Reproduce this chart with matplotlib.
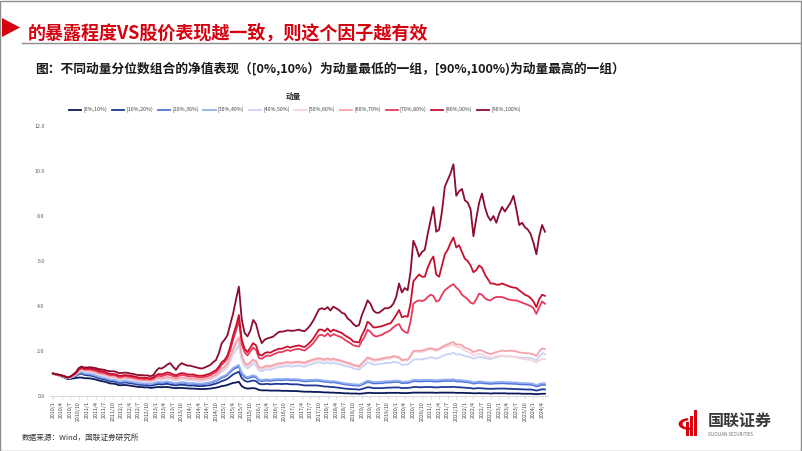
import matplotlib
matplotlib.use("Agg")
import matplotlib.pyplot as plt
from matplotlib.patches import Polygon, Wedge, Rectangle
from matplotlib.lines import Line2D

plt.rcParams['font.family'] = ['Noto Sans CJK SC', 'DejaVu Sans']

# ---------------- data (monthly, 2010/1 .. 2024/5) ----------------
start_year = 2010
n_months = 173

labels = ["[0%,10%)", "[10%,20%)", "[20%,30%)", "[30%,40%)", "[40%,50%)",
          "[50%,60%)", "[60%,70%)", "[70%,80%)", "[80%,90%)", "[90%,100%)"]

s_0_10 = [
    1.00, 0.95, 0.92, 0.87, 0.82, 0.76, 0.76, 0.78, 0.80, 0.82, 0.82, 0.79,
    0.79, 0.78, 0.76, 0.73, 0.69, 0.66, 0.64, 0.60, 0.56, 0.55, 0.53, 0.48,
    0.48, 0.49, 0.48, 0.46, 0.44, 0.42, 0.40, 0.40, 0.38, 0.39, 0.36, 0.37,
    0.39, 0.40, 0.39, 0.40, 0.40, 0.38, 0.36, 0.35, 0.36, 0.36, 0.35, 0.34,
    0.33, 0.33, 0.32, 0.31, 0.31, 0.31, 0.32, 0.33, 0.35, 0.37, 0.40, 0.44,
    0.46, 0.49, 0.54, 0.58, 0.60, 0.63, 0.44, 0.36, 0.33, 0.34, 0.35, 0.33,
    0.27, 0.25, 0.25, 0.25, 0.24, 0.24, 0.24, 0.24, 0.23, 0.23, 0.23, 0.22,
    0.22, 0.22, 0.21, 0.20, 0.19, 0.19, 0.19, 0.18, 0.18, 0.18, 0.17, 0.16,
    0.16, 0.15, 0.15, 0.14, 0.14, 0.13, 0.12, 0.12, 0.11, 0.11, 0.11, 0.10,
    0.11, 0.12, 0.14, 0.14, 0.13, 0.13, 0.13, 0.13, 0.13, 0.14, 0.14, 0.14,
    0.14, 0.14, 0.13, 0.13, 0.13, 0.14, 0.15, 0.15, 0.15, 0.15, 0.15, 0.15,
    0.15, 0.15, 0.14, 0.15, 0.15, 0.15, 0.15, 0.15, 0.15, 0.14, 0.14, 0.14,
    0.14, 0.13, 0.13, 0.12, 0.12, 0.13, 0.12, 0.12, 0.12, 0.11, 0.12, 0.12,
    0.12, 0.12, 0.12, 0.11, 0.11, 0.11, 0.11, 0.11, 0.10, 0.10, 0.10, 0.10,
    0.09, 0.08, 0.09, 0.10, 0.10]

s_10_20 = [
    1.00, 0.96, 0.92, 0.88, 0.84, 0.78, 0.80, 0.84, 0.89, 0.96, 1.00, 0.94,
    0.92, 0.91, 0.88, 0.84, 0.79, 0.76, 0.74, 0.70, 0.66, 0.65, 0.63, 0.58,
    0.58, 0.60, 0.59, 0.57, 0.55, 0.53, 0.50, 0.50, 0.48, 0.49, 0.46, 0.48,
    0.51, 0.53, 0.51, 0.53, 0.54, 0.51, 0.49, 0.47, 0.49, 0.50, 0.49, 0.47,
    0.46, 0.47, 0.45, 0.44, 0.44, 0.45, 0.47, 0.48, 0.52, 0.55, 0.60, 0.66,
    0.70, 0.76, 0.86, 0.96, 1.02, 1.08, 0.80, 0.68, 0.63, 0.66, 0.69, 0.66,
    0.55, 0.52, 0.53, 0.54, 0.52, 0.53, 0.54, 0.54, 0.53, 0.54, 0.54, 0.52,
    0.52, 0.52, 0.51, 0.49, 0.47, 0.47, 0.47, 0.47, 0.47, 0.46, 0.44, 0.42,
    0.42, 0.40, 0.40, 0.38, 0.37, 0.35, 0.33, 0.32, 0.31, 0.30, 0.30, 0.28,
    0.31, 0.35, 0.39, 0.38, 0.35, 0.35, 0.35, 0.35, 0.36, 0.37, 0.37, 0.38,
    0.38, 0.38, 0.35, 0.36, 0.36, 0.37, 0.40, 0.40, 0.39, 0.39, 0.40, 0.40,
    0.40, 0.39, 0.38, 0.39, 0.40, 0.40, 0.40, 0.40, 0.41, 0.39, 0.39, 0.38,
    0.37, 0.36, 0.35, 0.33, 0.34, 0.35, 0.34, 0.33, 0.32, 0.32, 0.32, 0.33,
    0.33, 0.33, 0.33, 0.32, 0.32, 0.31, 0.31, 0.30, 0.30, 0.29, 0.29, 0.29,
    0.27, 0.24, 0.27, 0.30, 0.29]

s_20_30 = [
    1.00, 0.96, 0.93, 0.89, 0.85, 0.79, 0.81, 0.85, 0.91, 1.00, 1.05, 0.99,
    0.97, 0.96, 0.93, 0.89, 0.84, 0.81, 0.79, 0.75, 0.71, 0.70, 0.68, 0.63,
    0.63, 0.65, 0.64, 0.62, 0.60, 0.58, 0.55, 0.55, 0.53, 0.54, 0.51, 0.54,
    0.57, 0.60, 0.58, 0.60, 0.62, 0.59, 0.56, 0.54, 0.57, 0.59, 0.58, 0.55,
    0.54, 0.55, 0.53, 0.52, 0.52, 0.54, 0.56, 0.58, 0.62, 0.66, 0.73, 0.81,
    0.85, 0.93, 1.06, 1.18, 1.25, 1.30, 0.98, 0.84, 0.78, 0.82, 0.86, 0.82,
    0.69, 0.66, 0.68, 0.69, 0.67, 0.69, 0.70, 0.71, 0.70, 0.71, 0.72, 0.70,
    0.70, 0.70, 0.69, 0.67, 0.65, 0.66, 0.67, 0.67, 0.68, 0.67, 0.65, 0.63,
    0.63, 0.60, 0.61, 0.59, 0.57, 0.54, 0.52, 0.50, 0.49, 0.47, 0.47, 0.45,
    0.50, 0.56, 0.62, 0.60, 0.56, 0.56, 0.57, 0.57, 0.59, 0.60, 0.60, 0.62,
    0.62, 0.62, 0.57, 0.58, 0.58, 0.61, 0.66, 0.66, 0.65, 0.65, 0.66, 0.66,
    0.66, 0.65, 0.64, 0.65, 0.66, 0.67, 0.67, 0.67, 0.68, 0.65, 0.65, 0.64,
    0.62, 0.61, 0.59, 0.55, 0.57, 0.59, 0.58, 0.56, 0.55, 0.54, 0.55, 0.56,
    0.56, 0.57, 0.56, 0.55, 0.55, 0.54, 0.54, 0.52, 0.52, 0.51, 0.51, 0.50,
    0.48, 0.42, 0.46, 0.50, 0.49]

s_30_40 = [
    1.00, 0.96, 0.93, 0.89, 0.85, 0.79, 0.81, 0.86, 0.92, 1.02, 1.07, 1.01,
    0.99, 0.98, 0.95, 0.91, 0.86, 0.83, 0.81, 0.77, 0.73, 0.72, 0.70, 0.65,
    0.65, 0.67, 0.66, 0.64, 0.62, 0.60, 0.57, 0.57, 0.55, 0.56, 0.53, 0.56,
    0.60, 0.63, 0.61, 0.63, 0.65, 0.62, 0.59, 0.57, 0.60, 0.62, 0.61, 0.58,
    0.57, 0.58, 0.56, 0.55, 0.55, 0.57, 0.59, 0.61, 0.66, 0.70, 0.78, 0.86,
    0.90, 0.98, 1.12, 1.25, 1.32, 1.38, 1.05, 0.90, 0.84, 0.88, 0.92, 0.88,
    0.74, 0.71, 0.73, 0.74, 0.72, 0.74, 0.75, 0.76, 0.75, 0.76, 0.77, 0.75,
    0.75, 0.75, 0.74, 0.72, 0.70, 0.71, 0.72, 0.72, 0.73, 0.72, 0.70, 0.68,
    0.68, 0.65, 0.66, 0.64, 0.62, 0.59, 0.57, 0.55, 0.54, 0.52, 0.52, 0.50,
    0.55, 0.62, 0.68, 0.66, 0.62, 0.62, 0.63, 0.63, 0.65, 0.66, 0.66, 0.68,
    0.68, 0.68, 0.63, 0.64, 0.64, 0.67, 0.72, 0.72, 0.71, 0.71, 0.72, 0.72,
    0.72, 0.71, 0.70, 0.71, 0.72, 0.73, 0.73, 0.73, 0.74, 0.71, 0.71, 0.70,
    0.68, 0.67, 0.65, 0.61, 0.63, 0.65, 0.64, 0.62, 0.61, 0.60, 0.61, 0.62,
    0.62, 0.63, 0.62, 0.61, 0.61, 0.60, 0.60, 0.58, 0.58, 0.57, 0.57, 0.56,
    0.54, 0.48, 0.53, 0.57, 0.56]

s_40_50 = [
    1.00, 0.96, 0.93, 0.90, 0.86, 0.80, 0.82, 0.88, 0.95, 1.08, 1.14, 1.08,
    1.07, 1.07, 1.04, 1.00, 0.94, 0.92, 0.90, 0.85, 0.81, 0.81, 0.79, 0.73,
    0.73, 0.76, 0.75, 0.73, 0.71, 0.68, 0.65, 0.65, 0.63, 0.64, 0.61, 0.65,
    0.70, 0.74, 0.72, 0.75, 0.78, 0.75, 0.71, 0.68, 0.73, 0.76, 0.74, 0.71,
    0.70, 0.71, 0.68, 0.67, 0.67, 0.69, 0.72, 0.75, 0.81, 0.86, 0.96, 1.08,
    1.15, 1.30, 1.55, 1.85, 2.05, 2.25, 1.58, 1.32, 1.22, 1.32, 1.42, 1.36,
    1.14, 1.10, 1.16, 1.19, 1.17, 1.22, 1.25, 1.29, 1.29, 1.32, 1.34, 1.31,
    1.32, 1.34, 1.35, 1.32, 1.30, 1.36, 1.40, 1.44, 1.48, 1.50, 1.48, 1.44,
    1.50, 1.44, 1.48, 1.44, 1.42, 1.38, 1.34, 1.31, 1.29, 1.22, 1.20, 1.17,
    1.28, 1.38, 1.50, 1.46, 1.40, 1.40, 1.42, 1.43, 1.46, 1.47, 1.47, 1.52,
    1.50, 1.47, 1.38, 1.40, 1.40, 1.50, 1.62, 1.63, 1.62, 1.63, 1.65, 1.68,
    1.72, 1.70, 1.66, 1.70, 1.76, 1.82, 1.86, 1.88, 1.92, 1.84, 1.86, 1.82,
    1.78, 1.75, 1.72, 1.66, 1.70, 1.74, 1.72, 1.68, 1.66, 1.64, 1.68, 1.72,
    1.75, 1.78, 1.76, 1.75, 1.76, 1.75, 1.74, 1.72, 1.71, 1.70, 1.70, 1.68,
    1.65, 1.58, 1.76, 1.90, 1.86]

s_50_60 = [
    1.00, 0.96, 0.93, 0.90, 0.86, 0.80, 0.82, 0.89, 0.96, 1.10, 1.17, 1.11,
    1.10, 1.10, 1.07, 1.03, 0.97, 0.95, 0.93, 0.88, 0.84, 0.84, 0.82, 0.76,
    0.76, 0.79, 0.78, 0.76, 0.74, 0.71, 0.68, 0.68, 0.66, 0.67, 0.64, 0.68,
    0.73, 0.77, 0.75, 0.78, 0.81, 0.78, 0.74, 0.71, 0.76, 0.79, 0.77, 0.74,
    0.73, 0.74, 0.71, 0.70, 0.70, 0.72, 0.75, 0.78, 0.85, 0.90, 1.00, 1.15,
    1.22, 1.38, 1.65, 1.98, 2.25, 2.45, 1.70, 1.42, 1.30, 1.42, 1.54, 1.47,
    1.22, 1.18, 1.25, 1.28, 1.26, 1.31, 1.35, 1.39, 1.39, 1.42, 1.45, 1.42,
    1.44, 1.46, 1.47, 1.44, 1.42, 1.48, 1.52, 1.56, 1.60, 1.62, 1.60, 1.56,
    1.62, 1.56, 1.60, 1.56, 1.54, 1.50, 1.46, 1.42, 1.40, 1.33, 1.31, 1.28,
    1.40, 1.52, 1.66, 1.62, 1.56, 1.56, 1.58, 1.60, 1.64, 1.66, 1.66, 1.72,
    1.70, 1.68, 1.56, 1.58, 1.58, 1.74, 1.95, 1.97, 1.95, 1.97, 2.00, 2.05,
    2.08, 2.05, 2.00, 2.05, 2.12, 2.18, 2.22, 2.26, 2.28, 2.18, 2.18, 2.12,
    2.02, 1.96, 1.90, 1.80, 1.84, 1.88, 1.85, 1.78, 1.74, 1.70, 1.72, 1.76,
    1.78, 1.80, 1.78, 1.76, 1.76, 1.74, 1.72, 1.68, 1.66, 1.63, 1.62, 1.60,
    1.55, 1.48, 1.58, 1.65, 1.62]

s_60_70 = [
    1.00, 0.96, 0.93, 0.90, 0.86, 0.80, 0.83, 0.90, 0.98, 1.12, 1.20, 1.14,
    1.13, 1.13, 1.10, 1.06, 1.00, 0.98, 0.96, 0.91, 0.87, 0.87, 0.85, 0.79,
    0.79, 0.82, 0.81, 0.79, 0.77, 0.74, 0.71, 0.71, 0.69, 0.70, 0.67, 0.71,
    0.77, 0.81, 0.79, 0.82, 0.85, 0.82, 0.78, 0.75, 0.80, 0.83, 0.81, 0.78,
    0.77, 0.78, 0.75, 0.74, 0.74, 0.76, 0.79, 0.82, 0.89, 0.94, 1.05, 1.22,
    1.30, 1.45, 1.75, 2.10, 2.40, 2.60, 1.80, 1.50, 1.38, 1.50, 1.62, 1.55,
    1.28, 1.25, 1.32, 1.35, 1.33, 1.38, 1.42, 1.46, 1.46, 1.49, 1.52, 1.49,
    1.50, 1.52, 1.53, 1.50, 1.48, 1.54, 1.58, 1.62, 1.66, 1.68, 1.66, 1.62,
    1.68, 1.62, 1.66, 1.62, 1.60, 1.56, 1.52, 1.48, 1.45, 1.38, 1.36, 1.32,
    1.45, 1.58, 1.72, 1.68, 1.62, 1.62, 1.64, 1.66, 1.70, 1.72, 1.72, 1.78,
    1.75, 1.72, 1.60, 1.62, 1.62, 1.78, 2.00, 2.02, 2.00, 2.02, 2.05, 2.10,
    2.12, 2.10, 2.05, 2.10, 2.18, 2.25, 2.30, 2.35, 2.40, 2.28, 2.30, 2.25,
    2.15, 2.10, 2.05, 1.95, 2.00, 2.05, 2.02, 1.95, 1.90, 1.86, 1.90, 1.95,
    1.98, 2.02, 2.00, 2.00, 2.02, 2.00, 1.98, 1.94, 1.92, 1.90, 1.90, 1.88,
    1.85, 1.78, 1.98, 2.12, 2.08]

s_70_80 = [
    1.00, 0.96, 0.94, 0.91, 0.87, 0.82, 0.85, 0.92, 1.00, 1.16, 1.24, 1.18,
    1.18, 1.18, 1.15, 1.12, 1.06, 1.04, 1.02, 0.97, 0.93, 0.93, 0.91, 0.85,
    0.85, 0.88, 0.87, 0.85, 0.83, 0.80, 0.77, 0.77, 0.75, 0.76, 0.73, 0.77,
    0.85, 0.90, 0.88, 0.92, 0.96, 0.93, 0.88, 0.85, 0.90, 0.94, 0.92, 0.88,
    0.87, 0.88, 0.85, 0.83, 0.83, 0.85, 0.88, 0.92, 1.00, 1.06, 1.20, 1.40,
    1.50, 1.68, 2.05, 2.50, 2.90, 3.35, 2.30, 1.95, 1.80, 1.98, 2.15, 2.05,
    1.70, 1.65, 1.75, 1.80, 1.78, 1.85, 1.90, 1.95, 1.95, 2.00, 2.05, 2.00,
    2.05, 2.08, 2.10, 2.05, 2.02, 2.12, 2.22, 2.35, 2.52, 2.70, 2.72, 2.65,
    2.78, 2.65, 2.75, 2.70, 2.65, 2.60, 2.50, 2.42, 2.35, 2.25, 2.22, 2.20,
    2.45, 2.65, 2.95, 2.85, 2.70, 2.64, 2.68, 2.72, 2.80, 2.85, 2.93, 3.05,
    3.15, 3.20, 2.95, 2.85, 2.80, 3.30, 4.10, 4.20, 4.25, 4.22, 4.27, 4.40,
    4.50, 4.45, 4.20, 4.25, 4.50, 4.70, 4.80, 4.90, 4.97, 4.82, 4.70, 4.50,
    4.40, 4.30, 4.15, 4.10, 4.30, 4.55, 4.50, 4.35, 4.27, 4.25, 4.35, 4.40,
    4.40, 4.40, 4.35, 4.30, 4.27, 4.25, 4.25, 4.20, 4.15, 4.10, 4.05, 4.00,
    3.90, 3.65, 3.95, 4.20, 4.10]

s_80_90 = [
    1.00, 0.97, 0.95, 0.92, 0.88, 0.83, 0.86, 0.94, 1.02, 1.20, 1.28, 1.22,
    1.22, 1.23, 1.20, 1.18, 1.12, 1.10, 1.08, 1.02, 0.98, 0.98, 0.96, 0.90,
    0.90, 0.93, 0.92, 0.90, 0.88, 0.85, 0.82, 0.82, 0.80, 0.81, 0.78, 0.82,
    0.92, 0.98, 0.96, 1.00, 1.05, 1.02, 0.96, 0.92, 0.98, 1.02, 1.00, 0.96,
    0.95, 0.96, 0.92, 0.90, 0.90, 0.92, 0.96, 1.00, 1.08, 1.15, 1.30, 1.50,
    1.60, 1.80, 2.20, 2.70, 3.10, 3.60, 2.50, 2.10, 1.95, 2.15, 2.35, 2.25,
    1.85, 1.80, 1.90, 1.95, 1.92, 2.00, 2.05, 2.10, 2.10, 2.15, 2.20, 2.15,
    2.20, 2.22, 2.25, 2.20, 2.18, 2.28, 2.40, 2.55, 2.75, 2.95, 2.95, 2.88,
    3.00, 2.85, 2.95, 2.90, 2.85, 2.80, 2.70, 2.62, 2.55, 2.42, 2.40, 2.38,
    2.70, 2.95, 3.30, 3.20, 3.05, 3.05, 3.08, 3.10, 3.15, 3.20, 3.23, 3.40,
    3.60, 3.82, 3.50, 3.55, 3.52, 4.10, 5.10, 5.25, 5.40, 5.30, 5.30, 5.70,
    6.00, 6.20, 5.40, 5.30, 5.80, 6.30, 6.50, 6.80, 7.05, 6.60, 6.70, 6.40,
    6.10, 6.00, 5.80, 5.50, 5.60, 5.80, 5.70, 5.40, 5.20, 5.00, 5.00, 4.95,
    4.95, 5.00, 4.95, 4.90, 4.85, 4.82, 4.80, 4.70, 4.60, 4.50, 4.45, 4.35,
    4.20, 3.95, 4.30, 4.50, 4.45]

s_90_100 = [
    1.00, 0.97, 0.95, 0.92, 0.88, 0.82, 0.85, 0.95, 1.05, 1.24, 1.31, 1.26,
    1.27, 1.28, 1.26, 1.24, 1.20, 1.18, 1.16, 1.12, 1.10, 1.10, 1.08, 1.02,
    1.02, 1.04, 1.03, 1.00, 0.98, 0.95, 0.93, 0.93, 0.91, 0.92, 0.88, 0.92,
    1.10, 1.24, 1.22, 1.30, 1.40, 1.46, 1.30, 1.16, 1.35, 1.46, 1.40, 1.35,
    1.35, 1.31, 1.28, 1.24, 1.22, 1.26, 1.32, 1.38, 1.50, 1.60, 1.90, 2.35,
    2.50, 2.70, 3.20, 3.67, 4.30, 4.86, 3.40, 2.80, 2.65, 2.90, 3.38, 3.20,
    2.70, 2.35, 2.50, 2.56, 2.60, 2.64, 2.75, 2.85, 2.86, 2.88, 2.92, 2.90,
    2.90, 2.92, 2.95, 2.90, 2.88, 3.00, 3.15, 3.35, 3.60, 3.85, 3.90, 3.85,
    3.95, 3.80, 3.97, 3.90, 3.82, 3.70, 3.65, 3.45, 3.35, 3.20, 3.10, 3.15,
    3.60, 3.90, 4.25, 4.10, 3.80, 3.70, 3.70, 3.80, 3.90, 3.90, 3.95, 4.10,
    4.40, 5.00, 4.60, 4.80, 4.70, 5.50, 6.90, 6.60, 6.20, 6.40, 6.50, 7.20,
    7.80, 8.40, 7.30, 7.40, 8.20, 9.30, 9.60, 9.90, 10.30, 8.90, 9.10, 9.20,
    8.70, 8.60, 8.30, 7.10, 7.90, 8.60, 9.00, 8.40, 8.00, 7.80, 8.00, 7.70,
    8.10, 8.40, 8.20, 8.40, 8.60, 8.90, 8.30, 7.60, 7.70, 7.50, 7.40, 7.20,
    6.80, 6.30, 7.10, 7.60, 7.30]

series = [s_0_10, s_10_20, s_20_30, s_30_40, s_40_50,
          s_50_60, s_60_70, s_70_80, s_80_90, s_90_100]

colors = ["#0b1a5a", "#1f3a96", "#4f74d9", "#93afef", "#c9d3f4",
          "#f7d3da", "#f4a3ab", "#e83a5c", "#c8102e", "#8c0c2e"]

tick_months = list(range(0, 172, 3))
tick_labels = [f"{start_year + m // 12}/{m % 12 + 1}" for m in tick_months]
y_ticks = [0, 2, 4, 6, 8, 10, 12]

# ---------------- figure ----------------
W, H = 802, 451
fig = plt.figure(figsize=(W / 100, H / 100), dpi=100)
fig.patch.set_facecolor("white")

def fx(px):
    return px / W

def fy(py):
    return 1 - py / H

# frame
fig.add_artist(Rectangle((0.0006, 0.001), 0.998, 0.997, transform=fig.transFigure,
                         fill=False, edgecolor="#8c8c8c", lw=1.0))

# header
fig.add_artist(Polygon([[fx(2), fy(18)], [fx(2), fy(37)], [fx(20), fy(27.5)]],
                       closed=True, transform=fig.transFigure,
                       facecolor="#d7000f", edgecolor="none"))
fig.add_artist(Line2D([fx(22), fx(802)], [fy(43), fy(43)], transform=fig.transFigure,
                      color="#8c8c8c", lw=1.0))
fig.text(fx(28), fy(33), "的暴露程度VS股价表现越一致，则这个因子越有效",
         color="#d7000f", fontsize=13, fontweight="bold", va="center", ha="left")
fig.text(fx(35), fy(68),
         "图：不同动量分位数组合的净值表现（[0%,10%）为动量最低的一组，[90%,100%)为动量最高的一组）",
         color="#1a1a1a", fontsize=9.2, fontweight="bold", va="center", ha="left")

# axes
ax_left, ax_right = 50.1, 547.8
ax_top, ax_bot = 126, 396
ax = fig.add_axes([fx(ax_left), fy(ax_bot), fx(ax_right - ax_left), (ax_bot - ax_top) / H])
months = list(range(n_months))
for vals, c, lab in zip(series, colors, labels):
    ax.plot(months, vals, color=c, lw=1.3, label=lab, solid_joinstyle="round")

ax.set_xlim(-1, 173)
ax.set_ylim(0, 12)
ax.set_yticks(y_ticks)
ax.set_yticklabels([f"{v:.1f}" for v in y_ticks], fontsize=3.8, color="#595959")
ax.set_xticks(tick_months)
ax.set_xticklabels(tick_labels, rotation=90, fontsize=3.8, color="#404040")
ax.tick_params(axis="y", length=0, pad=4)
ax.tick_params(axis="x", length=2, width=0.4, color="#bfbfbf", pad=1.5)
for s in ["top", "right", "left"]:
    ax.spines[s].set_visible(False)
ax.spines["bottom"].set_color("#d0d0d0")
ax.spines["bottom"].set_linewidth(0.6)

# legend
fig.text(fx(293), fy(96), "动量", fontsize=5.5, fontweight="bold", color="#262626",
         ha="center", va="center")
handles, labs = ax.get_legend_handles_labels()
fig.legend(handles, labs, ncol=10, loc="center", bbox_to_anchor=(fx(295), fy(110)),
           frameon=False, fontsize=3.8, handlelength=2.3, handletextpad=0.4,
           columnspacing=0.9, labelcolor="#404040")

# footer
fig.text(fx(22), fy(438), "数据来源：Wind，国联证券研究所", fontsize=5.5,
         color="#333333", ha="left", va="center")

# logo
fig.add_artist(Wedge((fx(689), fy(424)), 0.013, 95, 290, width=0.005,
                     transform=fig.transFigure, facecolor="#d7000f", edgecolor="none"))
for i, (x0, h) in enumerate([(686, 14), (690, 20), (694, 26)]):
    fig.add_artist(Rectangle((fx(x0), fy(436)), fx(2.5), h / H, transform=fig.transFigure,
                             facecolor="#d7000f", edgecolor="none"))
fig.text(fx(708), fy(421), "国联证券", fontsize=11.5, color="#3a3a3a",
         ha="left", va="center", fontweight="bold")
fig.text(fx(708), fy(435), "GUOLIAN SECURITIES", fontsize=3.2, color="#6a6a6a",
         ha="left", va="center")

fig.savefig("out.png", dpi=100, facecolor="white")
